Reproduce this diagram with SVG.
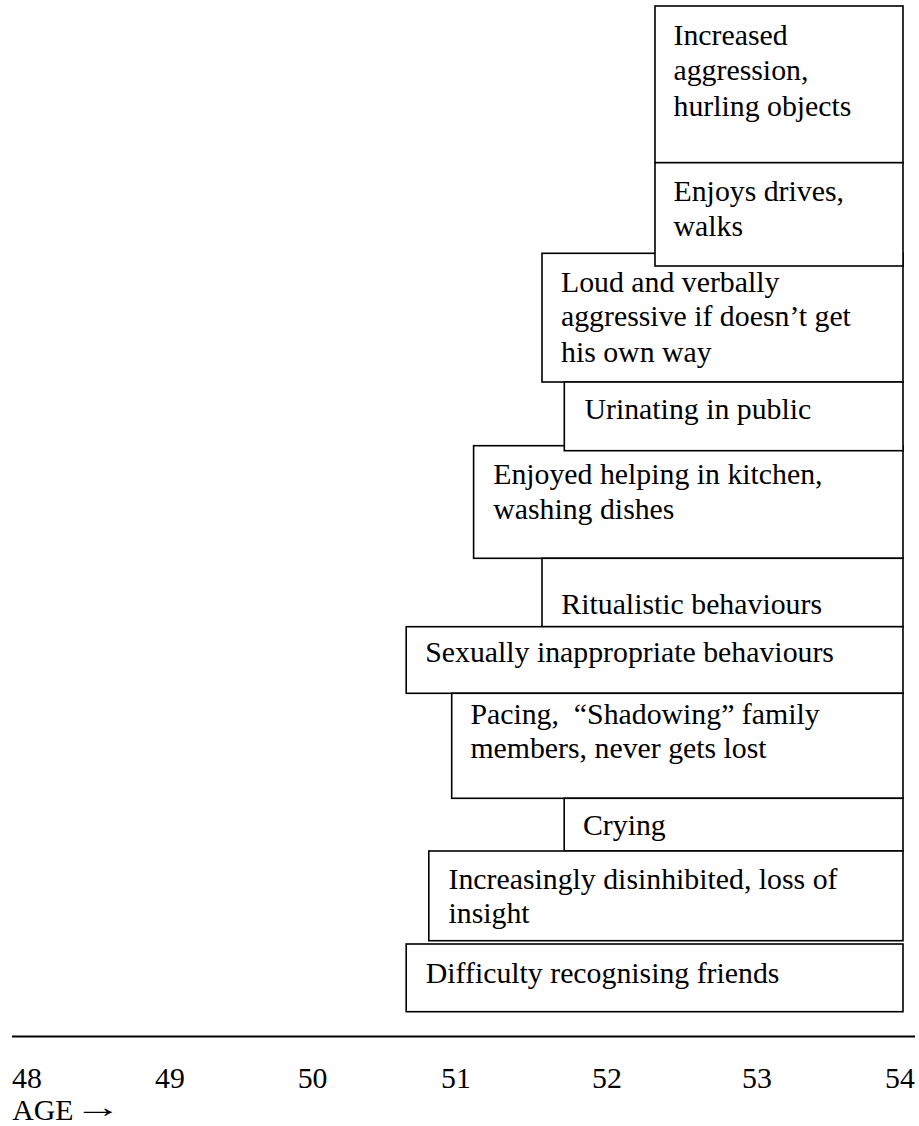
<svg xmlns="http://www.w3.org/2000/svg" width="919" height="1126" viewBox="0 0 919 1126">
<style>
rect.b{fill:#fff;stroke:#000;stroke-width:1.6}
text{font-family:"Liberation Serif","Times New Roman",serif;font-size:29.8px;fill:#000}
</style>
<rect width="919" height="1126" fill="#fff"/>
<g id="n1"><rect class="b" x="655" y="6" width="248" height="156.7"/>
<text x="673.5" y="45.2">Increased</text><text x="673.5" y="80.4">aggression,</text><text x="673.5" y="115.6">hurling objects</text></g>
<g id="n3"><rect class="b" x="542" y="253.3" width="361" height="128.7"/>
<text x="561" y="291.7">Loud and verbally</text><text x="561" y="326.4">aggressive if doesn’t get</text><text x="561" y="361.6">his own way</text></g>
<g id="n2"><rect class="b" x="655" y="162.7" width="248" height="103.3"/>
<text x="673.5" y="201">Enjoys drives,</text><text x="673.5" y="236">walks</text></g>
<g id="n5"><rect class="b" x="473.6" y="445.7" width="429.4" height="112.6"/>
<text x="493.2" y="484.3">Enjoyed helping in kitchen,</text><text x="493.2" y="519.3">washing dishes</text></g>
<g id="n4"><rect class="b" x="564.3" y="382" width="338.7" height="68.7"/>
<text x="584.5" y="419.3">Urinating in public</text></g>
<g id="n6"><rect class="b" x="542" y="558.3" width="361" height="68.4"/>
<text x="561.3" y="614">Ritualistic behaviours</text></g>
<g id="n7"><rect class="b" x="406.2" y="626.7" width="496.8" height="66.6"/>
<text x="425.2" y="662.3">Sexually inappropriate behaviours</text></g>
<g id="n8"><rect class="b" x="451.7" y="693.3" width="451.3" height="105"/>
<text x="470.4" y="724" xml:space="preserve">Pacing,  “Shadowing” family</text><text x="470.4" y="758.3">members, never gets lost</text></g>
<g id="n9"><rect class="b" x="564.2" y="798.3" width="338.8" height="52.7"/>
<text x="583" y="835">Crying</text></g>
<g id="n10"><rect class="b" x="428.8" y="851" width="474.2" height="89.7"/>
<text x="448.5" y="889">Increasingly disinhibited, loss of</text><text x="448.5" y="923.3">insight</text></g>
<g id="n11"><rect class="b" x="406.2" y="944" width="496.8" height="67.7"/>
<text x="425.8" y="982.7">Difficulty recognising friends</text></g>
<g id="axis">
<line x1="12" y1="1036.5" x2="915" y2="1036.5" stroke="#000" stroke-width="2.2"/>
<text x="12" y="1088.3">48</text><text x="155" y="1088.3">49</text><text x="297.7" y="1088.3">50</text><text x="441" y="1088.3">51</text><text x="592" y="1088.3">52</text><text x="742" y="1088.3">53</text><text x="885" y="1088.3">54</text>
<text x="12.3" y="1120">AGE</text><text transform="translate(74,1117) scale(1.6,1)" x="0" y="0">→</text>
</g>
</svg>
